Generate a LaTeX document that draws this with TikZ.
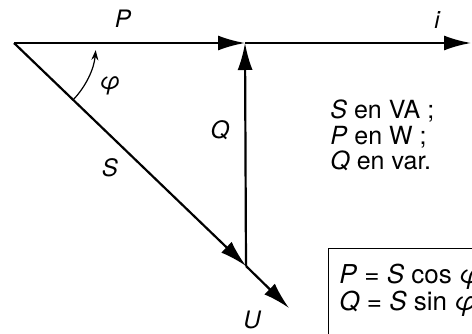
\documentclass[tikz,border=0pt]{standalone}
\usepackage{fontspec}
\setmainfont{TeX Gyre Heros}
\usetikzlibrary{arrows.meta}

\begin{document}
\begin{tikzpicture}[
    x=0.5pt, y=0.5pt,
    vec/.style={-{Latex[length=13.5pt,width=7.5pt]}, line width=1.1pt},
    angarrow/.style={-{Stealth[length=5pt,width=3.5pt]}, line width=0.6pt},
    lbl/.style={font=\fontsize{12}{14}\selectfont\itshape, anchor=base, inner sep=0pt},
    unitline/.style={font=\fontsize{12.5}{14}\selectfont, anchor=base west, inner sep=0pt},
    eqline/.style={font=\fontsize{13}{15}\selectfont, anchor=base west, inner sep=0pt},
    frame/.style={draw, line width=0.5pt}
]
\useasboundingbox (0,0) rectangle (472,333);

\coordinate (O) at (14,290);
\coordinate (M) at (245,290);
\coordinate (iend) at (471,290);
\coordinate (K) at (246,67);
\coordinate (Uend) at (289,25);

\draw[vec] (O) -- (M);
\draw[vec] (M) -- (iend);
\draw[vec] (K) -- (M);
\draw[vec] (K) -- (Uend);
\draw[vec] (O) -- (K);
\draw[angarrow] (O) ++(-43.8:82) arc[start angle=-43.8, end angle=-5, radius=41pt];

\node[lbl] (Plbl) at (123,306) {P};
\node[lbl] (ilbl) at (437,305) {i};
\node[lbl] (philbl) at (110,243) {φ};
\node[lbl] (Qlbl) at (220,195) {Q};
\node[lbl] (Slbl) at (110,156) {S};
\node[lbl] (Ulbl) at (252,5) {U};

\node[unitline] (uS) at (330,214) {\textit{S} en VA ;};
\node[unitline] (uP) at (330,189) {\textit{P} en W ;};
\node[unitline] (uQ) at (330,164) {\textit{Q} en var.};

\draw[frame] (328,85) rectangle (476,-4);
\node[eqline] (eqP) at (339,50) {\textit{P} = \textit{S} cos \textit{φ}};
\node[eqline] (eqQ) at (339,23) {\textit{Q} = \textit{S} sin \textit{φ}};
\end{tikzpicture}
\end{document}
